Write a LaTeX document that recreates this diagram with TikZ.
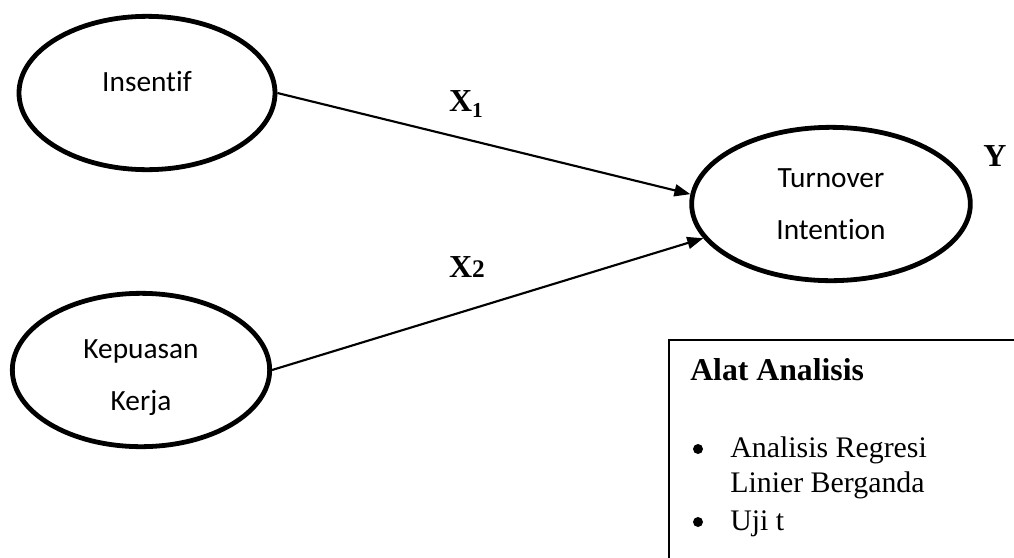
\documentclass[tikz,border=0pt]{standalone}
\usepackage{fontspec}
\setmainfont{Liberation Serif}
\newfontfamily\calibri[Ligatures=NoCommon]{Carlito}
\usetikzlibrary{shapes.geometric}
\usetikzlibrary{arrows.meta}

\begin{document}
\begin{tikzpicture}[x=0.75pt, y=-0.75pt,
		var/.style={ellipse, draw, line width=3.6pt, minimum height=115pt, inner sep=0pt, align=center, font=\calibri\fontsize{22}{39}\selectfont},
		path/.style={line width=1.6pt, -{Triangle[length=12pt,width=9pt]}},
		lbl/.style={font=\bfseries\fontsize{24}{24}\selectfont},
		boxtxt/.style={anchor=base west, inner sep=0pt, font=\fontsize{22.4}{27}\selectfont},
		dot/.style={circle, fill, inner sep=0pt, minimum size=7.5pt}]
			\useasboundingbox (0,0) rectangle (1014,557);
			\clip (0,0) rectangle (1014,557);
			\node[var, minimum width=192pt] (ins) at (147,93) {\raisebox{18pt}{Insentif}};
			\node[var, minimum width=193pt] (kep) at (141,370) {\rule{0pt}{25pt}Kepuasan\\Kerja};
			\node[var, minimum width=209pt] (turn) at (831,204) {Turnover\\Intention};
			\draw[path] (ins.east) -- (turn.176);
			\draw[path] (kep.east) -- (turn.195);
			\node[lbl] (x1) at (466,104) {X\raisebox{-5pt}{\fontsize{16}{16}\selectfont 1}};
			\node[lbl] (x2) at (467,267) {X{\fontsize{19}{19}\selectfont 2}};
			\node[lbl] (y) at (995,156) {Y};
			\draw[line width=1.2pt] (669,340) rectangle (1040,590);
			\node[boxtxt, font=\bfseries\fontsize{23.8}{27}\selectfont] (alat) at (690,380) {Alat Analisis};
			\node[dot] (dot1) at (698,449) {};
			\node[boxtxt] (reg) at (730,457) {Analisis Regresi};
			\node[boxtxt] (lin) at (730,492) {Linier Berganda};
			\node[dot] (dot2) at (698,522) {};
			\node[boxtxt] (uji) at (730,530) {Uji t};
		\end{tikzpicture}
\end{document}
